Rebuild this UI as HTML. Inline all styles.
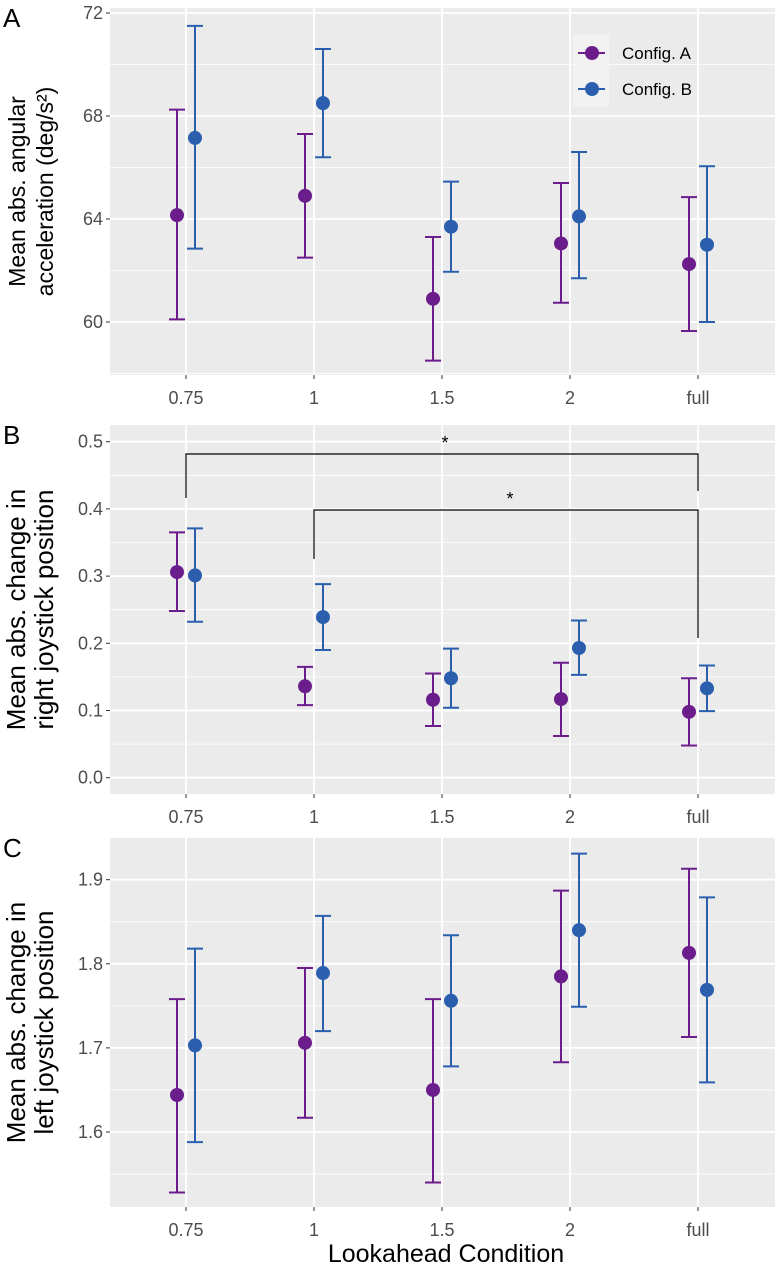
<!DOCTYPE html>
<html><head><meta charset="utf-8"><style>
body{margin:0;background:#fff;}
svg{display:block;font-family:"Liberation Sans",sans-serif;}
</style></head><body>
<svg id="fig" width="775" height="1268" viewBox="0 0 775 1268" xmlns="http://www.w3.org/2000/svg"></svg>
<script>
const categories = ["0.75","1","1.5","2","full"];
const aMeanA = [64.15,64.9,60.9,63.05,62.25];
const aLoA = [60.1,62.5,58.5,60.75,59.65];
const aHiA = [68.25,67.3,63.3,65.4,64.85];
const aMeanB = [67.15,68.5,63.7,64.1,63.0];
const aLoB = [62.85,66.4,61.95,61.7,60.0];
const aHiB = [71.5,70.6,65.45,66.6,66.05];
const aTicks = [60,64,68,72];
const bMeanA = [0.306,0.136,0.116,0.117,0.098];
const bLoA = [0.248,0.108,0.077,0.062,0.048];
const bHiA = [0.365,0.165,0.155,0.171,0.148];
const bMeanB = [0.301,0.239,0.148,0.193,0.133];
const bLoB = [0.232,0.19,0.104,0.153,0.099];
const bHiB = [0.371,0.288,0.192,0.234,0.167];
const bTicks = [0.0,0.1,0.2,0.3,0.4,0.5];
const cMeanA = [1.644,1.706,1.65,1.785,1.813];
const cLoA = [1.528,1.617,1.540,1.683,1.713];
const cHiA = [1.758,1.795,1.758,1.887,1.913];
const cMeanB = [1.703,1.789,1.756,1.840,1.769];
const cLoB = [1.588,1.720,1.678,1.749,1.659];
const cHiB = [1.818,1.857,1.834,1.931,1.879];
const cTicks = [1.6,1.7,1.8,1.9];

const NS="http://www.w3.org/2000/svg";
const svg=document.getElementById('fig');
const PURPLE="#6b1d8c", BLUE="#2b5fae";
function mk(tag,attrs,parent,txt){const e=document.createElementNS(NS,tag);for(const k in attrs)e.setAttribute(k,attrs[k]);if(txt!==undefined)e.textContent=txt;(parent||svg).appendChild(e);return e;}

function panel(o){
  const g=mk('g',{});
  
  
  const x0=110,x1=775;
  const xs=i=>186+128*i;
  const ys=v=>o.yRef+(v-o.vRef)*o.ppu*-1;
  const bg=mk('rect',{x:x0,y:o.top,width:x1-x0,height:o.bottom-o.top,fill:"#ebebeb"},g);
  
  
  o.minor.forEach(v=>mk('line',{x1:x0,x2:x1,y1:ys(v),y2:ys(v),stroke:"#fff","stroke-width":0.8},g));
  o.ticks.forEach(v=>{
    mk('line',{x1:x0,x2:x1,y1:ys(v),y2:ys(v),stroke:"#fff","stroke-width":1.8},g);
    mk('line',{x1:x0-4,x2:x0,y1:ys(v),y2:ys(v),stroke:"#333","stroke-width":1},g);
    const t=mk('text',{x:x0-7,y:ys(v)+6,"text-anchor":"end","font-size":o.tickFs,fill:"#4d4d4d"},g,o.fmt(v));
    
    
  });
  categories.forEach((c,i)=>{
    mk('line',{x1:xs(i),x2:xs(i),y1:o.top,y2:o.bottom,stroke:"#fff","stroke-width":1.8},g);
    mk('line',{x1:xs(i),x2:xs(i),y1:o.bottom,y2:o.bottom+4,stroke:"#333","stroke-width":1},g);
    const t=mk('text',{x:xs(i),y:o.bottom+29,"text-anchor":"middle","font-size":o.tickFs,fill:"#4d4d4d"},g,c);
    
    
  });
  const series=[[o.mA,o.lA,o.hA,PURPLE,-9,'config-a'],[o.mB,o.lB,o.hB,BLUE,9,'config-b']];
  series.forEach(([m,l,h,col,d,nm])=>{
    m.forEach((v,i)=>{
      const x=xs(i)+d;
      const eb=mk('path',{d:`M${x-8},${ys(h[i])}H${x+8}M${x},${ys(h[i])}V${ys(l[i])}M${x-8},${ys(l[i])}H${x+8}`,stroke:col,"stroke-width":2,fill:"none"},g);
      
      
      const p=mk('circle',{cx:x,cy:ys(v),r:7,fill:col},g);
      
      
    });
  });
  const L=mk('text',{x:3,y:o.top+19,"font-size":26,fill:"#000"},g,o.letter);
  
  
  const cy=(o.top+o.bottom)/2;
  o.title.forEach((ln,k)=>{
    const t=mk('text',{x:0,y:0,"text-anchor":"middle","font-size":o.titleFs,fill:"#000",transform:`translate(${o.titleX[k]},${cy}) rotate(-90)`},g,ln);
    
    
  });
  return {g,xs,ys};
}

const A=panel({name:'panel-a',letter:'A',top:8,bottom:375,yRef:13,vRef:72,ppu:25.75,ticks:aTicks,minor:[58,62,66,70],fmt:v=>String(v),tickFs:18,
  mA:aMeanA,lA:aLoA,hA:aHiA,mB:aMeanB,lB:aLoB,hB:aHiB,title:["Mean abs. angular","acceleration (deg/s²)"],titleX:[25,53],titleFs:23});
const B=panel({name:'panel-b',letter:'B',top:425,bottom:794,yRef:777.7,vRef:0,ppu:672,ticks:bTicks,minor:[0.05,0.15,0.25,0.35,0.45],fmt:v=>v.toFixed(1),tickFs:18,
  mA:bMeanA,lA:bLoA,hA:bHiA,mB:bMeanB,lB:bLoB,hB:bHiB,title:["Mean abs. change in","right joystick position"],titleX:[25,53],titleFs:26});
const C=panel({name:'panel-c',letter:'C',top:838,bottom:1207,yRef:1132,vRef:1.6,ppu:841,ticks:cTicks,minor:[1.55,1.65,1.75,1.85],fmt:v=>v.toFixed(1),tickFs:18,
  mA:cMeanA,lA:cLoA,hA:cHiA,mB:cMeanB,lB:cLoB,hB:cHiB,title:["Mean abs. change in","left joystick position"],titleX:[25,53],titleFs:26});

const br1=mk('path',{d:`M${B.xs(0)},498V454H${B.xs(4)}V491`,stroke:"#000","stroke-width":1.2,fill:"none"},B.g);


const s1=mk('text',{x:445,y:449,"text-anchor":"middle","font-size":18},B.g,"*");


const br2=mk('path',{d:`M${B.xs(1)},559V510H${B.xs(4)}V638`,stroke:"#000","stroke-width":1.2,fill:"none"},B.g);


const s2=mk('text',{x:510,y:505,"text-anchor":"middle","font-size":18},B.g,"*");



const lg=mk('g',{},A.g);


mk('rect',{x:573,y:35,width:36,height:72,fill:"#f2f2f2"},lg);
[[PURPLE,'Config. A',53],[BLUE,'Config. B',89]].forEach(([c,t,y])=>{
  const e=mk('g',{},lg);
  
  
  mk('line',{x1:578,x2:605,y1:y,y2:y,stroke:c,"stroke-width":2},e);
  mk('circle',{cx:592,cy:y,r:7,fill:c},e);
  mk('text',{x:622,y:y+6,"font-size":17,fill:"#000"},e,t);
});

const xt=mk('text',{x:446,y:1262,"text-anchor":"middle","font-size":25,fill:"#000"},C.g,"Lookahead Condition");


</script>
</body></html>
